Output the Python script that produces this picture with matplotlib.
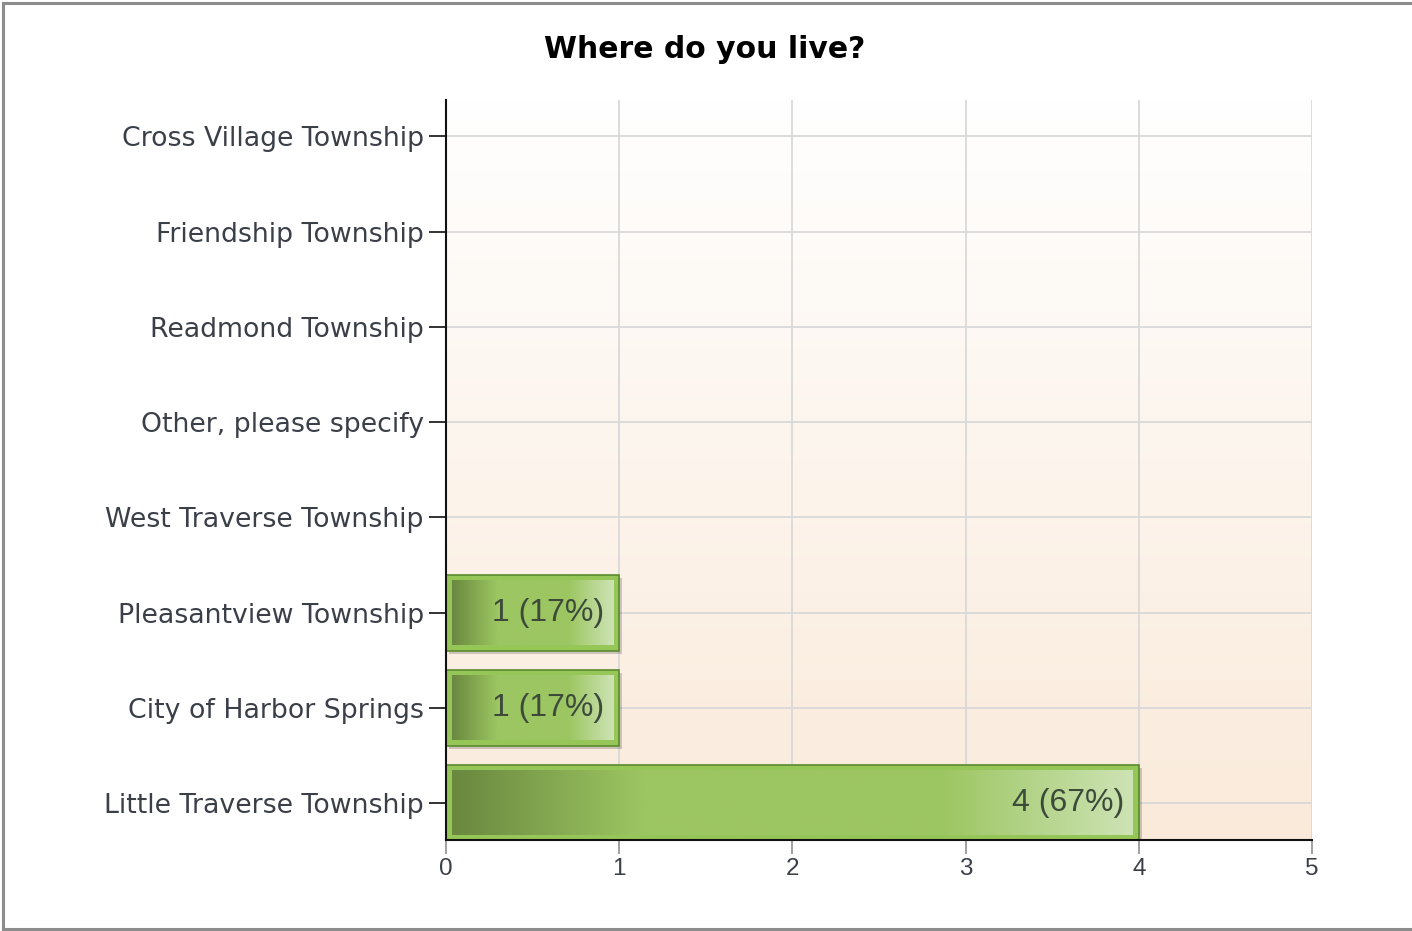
import numpy as np
import matplotlib
matplotlib.use("Agg")
import matplotlib.pyplot as plt
from matplotlib.patches import Rectangle
from matplotlib.colors import LinearSegmentedColormap
from matplotlib.lines import Line2D

title = "Where do you live?"
categories = ["Little Traverse Township", "City of Harbor Springs", "Pleasantview Township",
              "West Traverse Township", "Other, please specify", "Readmond Township",
              "Friendship Township", "Cross Village Township"]
counts = [4, 1, 1, 0, 0, 0, 0, 0]
percents = [67, 17, 17, 0, 0, 0, 0, 0]
xticks = [0, 1, 2, 3, 4, 5]

W, H = 1412, 931
plt.rcParams['font.family'] = ['Liberation Sans', 'DejaVu Sans']
fig = plt.figure(figsize=(W / 100, H / 100), dpi=100)

x0, x1 = 446, 1312
y0, y1 = 100, 840
ax = fig.add_axes([x0 / W, 1 - y1 / H, (x1 - x0) / W, (y1 - y0) / H])
ax.set_xlim(0, 5)
ax.set_ylim(-0.385, 7.38)

# background gradient
bg = LinearSegmentedColormap.from_list("bg", ["#faeada", "#ffffff"])
grad = np.linspace(0, 1, 256).reshape(-1, 1)
ax.imshow(grad, aspect="auto", cmap=bg, extent=[0, 5, -0.385, 7.38], origin="lower", zorder=0)

# grid
for xv in xticks[1:]:
    ax.axvline(xv, color="#d9d9d9", lw=1.3, zorder=1)
for i in range(len(categories)):
    ax.axhline(i, color="#d9d9d9", lw=1.3, zorder=1)

barcmap = LinearSegmentedColormap.from_list(
    "bar", [(0, "#6a883f"), (0.28, "#9cc662"), (0.72, "#9cc662"), (1.0, "#cde3b4")])
hgrad = np.linspace(0, 1, 256).reshape(1, -1)
bh = 0.8
px_x = 5 / (x1 - x0)
px_y = (7.38 + 0.385) / (y1 - y0)
for i, (c, p) in enumerate(zip(counts, percents)):
    if c <= 0:
        continue
    # shadow
    ax.add_patch(Rectangle((3 * px_x, i - bh / 2 - 3 * px_y), c, bh, facecolor="#000000",
                           alpha=0.18, edgecolor="none", zorder=2))
    ax.add_patch(Rectangle((0, i - bh / 2), c, bh, facecolor="#96c658",
                           edgecolor="#5b8a2f", lw=1.2, zorder=3))
    ix0, ix1 = 6 * px_x, c - 6 * px_x
    iy0, iy1 = i - bh / 2 + 6 * px_y, i + bh / 2 - 6 * px_y
    ax.imshow(hgrad, aspect="auto", cmap=barcmap, extent=[ix0, ix1, iy0, iy1],
              zorder=4, interpolation="bilinear")
    ax.text(c - 15 * px_x, i, f"{c} ({p}%)", ha="right", va="center",
            fontsize=23, color="#3d4a3a", zorder=5)

ax.set_yticks(range(len(categories)))
ax.set_yticklabels(categories, fontsize=19.3, color="#3a3f48", family=["DejaVu Sans"])
ax.set_xticks(xticks)
ax.set_xticklabels([str(v) for v in xticks], fontsize=17.5, color="#3a3f48")
ax.tick_params(axis="y", length=12, width=1.3, color="#222222", pad=4)
ax.tick_params(axis="x", length=10, width=1.3, color="#999999", pad=3)
for s in ["top", "right"]:
    ax.spines[s].set_visible(False)
ax.spines["left"].set_color("#111111")
ax.spines["bottom"].set_color("#111111")
ax.spines["left"].set_linewidth(1.5)
ax.spines["bottom"].set_linewidth(1.5)
ax.spines["left"].set_zorder(6)
ax.spines["bottom"].set_zorder(6)

fig.text(705 / W, 1 - 49 / H, title, ha="center", va="center", fontsize=21.5,
         fontweight="bold", color="#000000", family=["DejaVu Sans"])

# figure border
bc = "#8c8c8c"
fig.add_artist(Line2D([3 / W, 3 / W], [1 - 3 / H, 1 - 929 / H], color=bc, lw=2.2, transform=fig.transFigure))
fig.add_artist(Line2D([3 / W, 1], [1 - 3 / H, 1 - 3 / H], color=bc, lw=2.2, transform=fig.transFigure))
fig.add_artist(Line2D([3 / W, 1], [1 - 929 / H, 1 - 929 / H], color=bc, lw=2.2, transform=fig.transFigure))

fig.savefig("out.png", dpi=100)
